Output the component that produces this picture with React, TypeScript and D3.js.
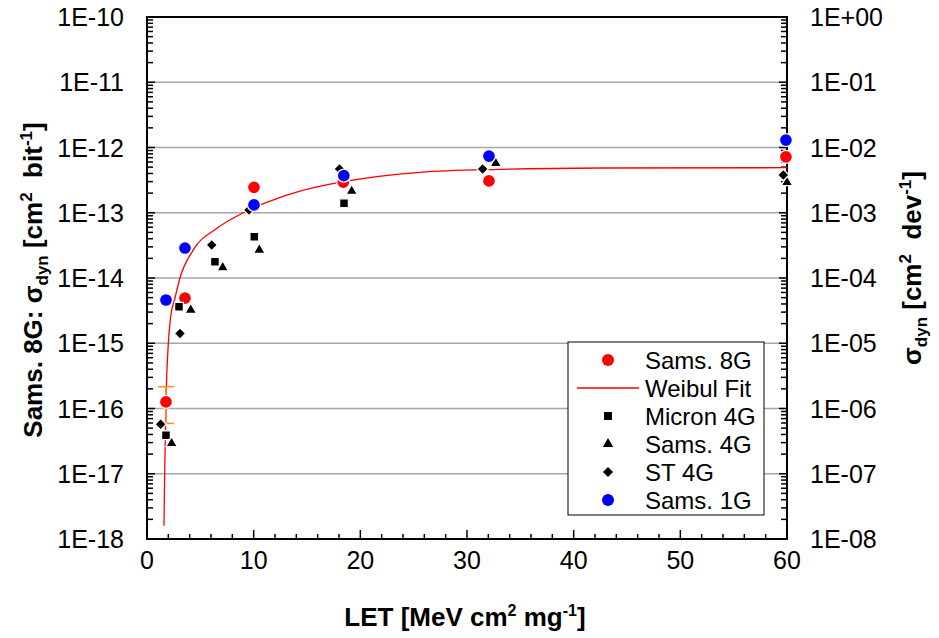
import React from 'react';
import * as d3 from 'd3';

// ---------- data ----------
const sams8G_LET = [1.78, 3.56, 10.03, 18.4, 32.06, 59.9];
const sams8G_sigma = [1.26e-16, 4.9e-15, 2.45e-13, 2.95e-13, 3.07e-13, 7.2e-13];
const sams8G_errLow = [5.9e-17];
const sams8G_errHigh = [2.16e-16];

const micron4G_LET = [1.78, 3.0, 6.37, 10.06, 18.47];
const micron4G_sigma = [3.9e-17, 3.63e-15, 1.78e-14, 4.3e-14, 1.4e-13];

const sams4G_LET = [2.31, 4.1, 7.1, 10.53, 19.19, 32.7, 60.0];
const sams4G_sigma = [2.93e-17, 3.24e-15, 1.45e-14, 2.69e-14, 2.15e-13, 5.73e-13, 2.93e-13];

const st4G_LET = [1.28, 3.09, 6.07, 9.56, 18.05, 31.47, 59.65];
const st4G_sigma = [5.75e-17, 1.41e-15, 3.2e-14, 1.1e-13, 4.7e-13, 4.7e-13, 3.8e-13];

const sams1G_LET = [1.78, 3.56, 10.03, 18.45, 32.06, 59.9];
const sams1G_sigma = [4.6e-15, 2.88e-14, 1.32e-13, 3.7e-13, 7.4e-13, 1.3e-12];

const weibull_LET = [1.59, 1.66, 1.72, 1.78, 2.0, 2.22, 2.62, 3.09, 4.34, 6.53, 9.03, 10.03, 11.53, 14.34, 18.4, 25.6, 33.1, 42.5, 60];
const weibull_sigma = [1.6e-18, 1.1e-17, 3.7e-17, 1.24e-16, 1.0e-15, 2.55e-15, 4.9e-15, 1.0e-14, 2.7e-14, 5.75e-14, 1.0e-13, 1.2e-13, 1.51e-13, 2.14e-13, 2.99e-13, 4.17e-13, 4.63e-13, 4.85e-13, 4.9e-13];

const xTicks = [0, 10, 20, 30, 40, 50, 60];
const xTickLabels = ['0', '10', '20', '30', '40', '50', '60'];
const yLeftExps = [-18, -17, -16, -15, -14, -13, -12, -11, -10];
const yLeftLabels = ['1E-18', '1E-17', '1E-16', '1E-15', '1E-14', '1E-13', '1E-12', '1E-11', '1E-10'];
const yRightExps = [-8, -7, -6, -5, -4, -3, -2, -1, 0];
const yRightLabels = ['1E-08', '1E-07', '1E-06', '1E-05', '1E-04', '1E-03', '1E-02', '1E-01', '1E+00'];

const legendLabels = ['Sams. 8G', 'Weibul Fit', 'Micron 4G', 'Sams. 4G', 'ST 4G', 'Sams. 1G'];

// ---------- layout ----------
const W = 939, H = 638;
const PL = 147, PR = 787, PT = 17, PB = 539;
const FONT = 'Liberation Sans, Arial, Helvetica, sans-serif';

export default function App() {
  const x = d3.scaleLinear().domain([0, 60]).range([PL, PR]);
  const y = d3.scaleLog().domain([1e-18, 1e-10]).range([PB, PT]);
  const y2 = d3.scaleLog().domain([1e-8, 1]).range([PB, PT]);

  const minorY: number[] = [];
  yLeftExps.slice(0, -1).forEach(e => {
    for (let m = 2; m <= 9; m++) minorY.push(m * Math.pow(10, e));
  });
  const minorY2: number[] = [];
  yRightExps.slice(0, -1).forEach(e => {
    for (let m = 2; m <= 9; m++) minorY2.push(m * Math.pow(10, e));
  });
  const minorX = d3.range(0, 61, 2).filter(v => v % 10 !== 0);

  const line = d3.line<[number, number]>()
    .x(d => x(d[0]))
    .y(d => y(d[1]))
    .curve(d3.curveMonotoneX);
  const fitPath = line(weibull_LET.map((l, i) => [l, weibull_sigma[i]] as [number, number])) || '';

  const sq = d3.symbol().type(d3.symbolSquare).size(78)() || '';
  const dia = d3.symbol().type(d3.symbolSquare).size(64)() || '';
  const tri = d3.symbol().type(d3.symbolTriangle).size(58)() || '';

  const markerStroke = { stroke: '#fff', strokeWidth: 1.3 };

  const ex = x(sams8G_LET[0]);

  return (
    <svg width={W} height={H} style={{ position: 'absolute', left: 0, top: 0, background: '#fff' }} fontFamily={FONT}>
      <rect x={0} y={0} width={W} height={H} fill="#fff" />
      {/* gridlines */}
      {yLeftExps.slice(1, -1).map(e => (
        <line key={'g' + e} x1={PL} x2={PR} y1={y(Math.pow(10, e))} y2={y(Math.pow(10, e))} stroke="#a6a6a6" strokeWidth={1.5} />
      ))}
      {/* frame */}
      <rect x={PL} y={PT} width={PR - PL} height={PB - PT} fill="none" stroke="#000" strokeWidth={2} />
      {/* left ticks */}
      {minorY.map((v, i) => (
        <line key={'ml' + i} x1={PL} x2={PL + 6} y1={y(v)} y2={y(v)} stroke="#000" strokeWidth={1.5} />
      ))}
      {yLeftExps.map(e => (
        <line key={'Ml' + e} x1={PL} x2={PL + 8} y1={y(Math.pow(10, e))} y2={y(Math.pow(10, e))} stroke="#000" strokeWidth={1.5} />
      ))}
      {/* right ticks */}
      {minorY2.map((v, i) => (
        <line key={'mr' + i} x1={PR - 6} x2={PR} y1={y2(v)} y2={y2(v)} stroke="#000" strokeWidth={1.5} />
      ))}
      {yRightExps.map(e => (
        <line key={'Mr' + e} x1={PR - 8} x2={PR} y1={y2(Math.pow(10, e))} y2={y2(Math.pow(10, e))} stroke="#000" strokeWidth={1.5} />
      ))}
      {/* x ticks */}
      {minorX.map(v => (
        <line key={'mx' + v} x1={x(v)} x2={x(v)} y1={PB} y2={PB - 5} stroke="#000" strokeWidth={1.5} />
      ))}
      {xTicks.map(v => (
        <line key={'Mx' + v} x1={x(v)} x2={x(v)} y1={PB} y2={PB - 9} stroke="#000" strokeWidth={1.5} />
      ))}

      {/* tick labels */}
      {yLeftExps.map((e, i) => (
        <text key={'tl' + e} x={124} y={y(Math.pow(10, e))} dy="0.36em" textAnchor="end" fontSize={25} fill="#000">{yLeftLabels[i]}</text>
      ))}
      {yRightExps.map((e, i) => (
        <text key={'tr' + e} x={810} y={y2(Math.pow(10, e))} dy="0.36em" textAnchor="start" fontSize={25} fill="#000">{yRightLabels[i]}</text>
      ))}
      {xTicks.map((v, i) => (
        <text key={'tx' + v} x={x(v)} y={569} textAnchor="middle" fontSize={25} fill="#000">{xTickLabels[i]}</text>
      ))}

      {/* axis titles */}
      <text x={465} y={626} textAnchor="middle" fontSize={26} fontWeight="bold" fill="#000">
        LET [MeV cm<tspan dy={-10} fontSize={16}>2</tspan><tspan dy={10}> mg</tspan><tspan dy={-10} fontSize={16}>-1</tspan><tspan dy={10}>]</tspan>
      </text>
      <text transform={`translate(42,280) rotate(-90)`} textAnchor="middle" fontSize={26} fontWeight="bold" fill="#000" xmlSpace="preserve">
        Sams. 8G: σ<tspan dy={6} fontSize={17}>dyn</tspan><tspan dy={-6}> [cm</tspan><tspan dy={-10} fontSize={17}>2</tspan><tspan dy={10}>  bit</tspan><tspan dy={-10} fontSize={17}>-1</tspan><tspan dy={10}>]</tspan>
      </text>
      <text transform={`translate(921,268) rotate(-90)`} textAnchor="middle" fontSize={26} fontWeight="bold" fill="#000" xmlSpace="preserve">
        σ<tspan dy={6} fontSize={17}>dyn</tspan><tspan dy={-6}> [cm</tspan><tspan dy={-10} fontSize={17}>2</tspan><tspan dy={10}>  dev</tspan><tspan dy={-10} fontSize={17}>-1</tspan><tspan dy={10}>]</tspan>
      </text>

      {/* Weibull fit */}
      <path d={fitPath} fill="none" stroke="#ff0000" strokeWidth={1.3} />

      {/* error bar on Sams 8G */}
      <g stroke="#ff8a2a" strokeWidth={1.5}>
        <line x1={ex} x2={ex} y1={y(sams8G_errLow[0])} y2={y(sams8G_errHigh[0])} />
        <line x1={ex - 8} x2={ex + 8} y1={y(sams8G_errHigh[0])} y2={y(sams8G_errHigh[0])} />
        <line x1={ex - 8} x2={ex + 8} y1={y(sams8G_errLow[0])} y2={y(sams8G_errLow[0])} />
      </g>

      {/* Sams 8G */}
      {sams8G_LET.map((l, i) => (
        <circle key={'r' + i} cx={x(l)} cy={y(sams8G_sigma[i])} r={6.5} fill="#ff0000" {...markerStroke} />
      ))}
      {/* Micron 4G */}
      {micron4G_LET.map((l, i) => (
        <path key={'s' + i} d={sq} transform={`translate(${x(l)},${y(micron4G_sigma[i])})`} fill="#000" {...markerStroke} />
      ))}
      {/* Sams 4G */}
      {sams4G_LET.map((l, i) => (
        <path key={'t' + i} d={tri} transform={`translate(${x(l)},${y(sams4G_sigma[i])})`} fill="#000" {...markerStroke} />
      ))}
      {/* ST 4G */}
      {st4G_LET.map((l, i) => (
        <path key={'d' + i} d={dia} transform={`translate(${x(l)},${y(st4G_sigma[i])}) rotate(45)`} fill="#000" {...markerStroke} />
      ))}
      {/* Sams 1G */}
      {sams1G_LET.map((l, i) => (
        <circle key={'b' + i} cx={x(l)} cy={y(sams1G_sigma[i])} r={6.5} fill="#0000ff" {...markerStroke} />
      ))}

      {/* legend */}
      <g>
        <rect x={568} y={342} width={196} height={173} fill="#fff" stroke="#000" strokeWidth={1} />
        {legendLabels.map((lab, i) => {
          const ly = 360 + i * 28;
          let mark: React.ReactNode = null;
          if (i === 0) mark = <circle cx={608} cy={ly} r={6} fill="#ff0000" />;
          else if (i === 1) mark = <line x1={577} x2={639} y1={ly} y2={ly} stroke="#ff0000" strokeWidth={1.3} />;
          else if (i === 2) mark = <path d={d3.symbol().type(d3.symbolSquare).size(64)() || ''} transform={`translate(608,${ly})`} fill="#000" />;
          else if (i === 3) mark = <path d={d3.symbol().type(d3.symbolTriangle).size(48)() || ''} transform={`translate(608,${ly})`} fill="#000" />;
          else if (i === 4) mark = <path d={d3.symbol().type(d3.symbolSquare).size(50)() || ''} transform={`translate(608,${ly}) rotate(45)`} fill="#000" />;
          else mark = <circle cx={608} cy={ly} r={6} fill="#0000ff" />;
          return (
            <g key={'lg' + i}>
              {mark}
              <text x={645} y={ly} dy="0.36em" fontSize={24} fill="#000">{lab}</text>
            </g>
          );
        })}
      </g>
    </svg>
  );
}
